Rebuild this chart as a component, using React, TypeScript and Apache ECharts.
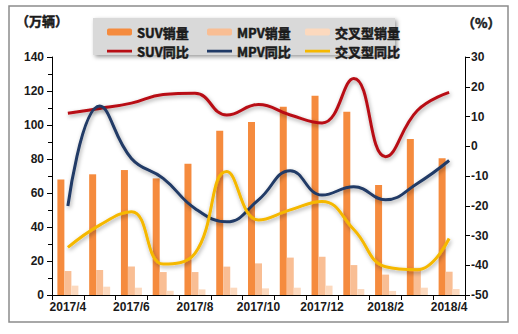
import React, { useEffect, useRef } from "react";
import * as echarts from "echarts";

const categories = ["2017/4", "2017/5", "2017/6", "2017/7", "2017/8", "2017/9", "2017/10", "2017/11", "2017/12", "2018/1", "2018/2", "2018/3", "2018/4"];
const suvSales = [68, 71, 73.5, 68.6, 77.2, 96.6, 101.8, 110.8, 117.2, 107.8, 64.7, 91.8, 80.4];
const mpvSales = [14.1, 14.7, 16.7, 13.5, 13.5, 16.7, 18.6, 22, 22.5, 17.6, 12, 16, 13.7];
const crossSales = [5.5, 4.9, 4.3, 2.5, 3.3, 4.3, 3.9, 4.3, 5.5, 3.5, 2.4, 4.3, 3.5];
const suvYoy = [11.1, 12.7, 14.5, 17.4, 17.8, 10.5, 14, 10.5, 7.8, 22.8, -3.5, 12, 18.1];
const mpvYoy = [-20.1, 13.5, -4.1, -10.8, -20.9, -25.4, -18, -8.2, -16.4, -13.6, -18, -12.5, -4.8];
const crossYoy = [-34, -26.5, -22, -39.6, -36, -8.5, -24.8, -21.4, -18.6, -28, -40.5, -41.5, -31];

const FONT = "'Noto Sans CJK SC', 'Liberation Sans', Arial, sans-serif";
const AXFONT = "'Liberation Sans', Arial, sans-serif";
const LINE_ICON = "path://M0,0h0.01v0.01h-0.01z M0,2.3h25v2.6h-25z M24.99,6.99h0.01v0.01h-0.01z";

const C_SUV = "#F58B3E";
const C_MPV = "#F9BE94";
const C_CROSS = "#FCD9BE";
const L_SUV = "#B80E14";
const L_MPV = "#203A66";
const L_CROSS = "#F5B800";

export default function App() {
  const ref = useRef<HTMLDivElement>(null);
  useEffect(() => {
    if (!ref.current) return;
    const chart = echarts.init(ref.current, null, { renderer: "svg" });
    const legendCommon = {
      orient: "vertical" as const,
      itemWidth: 25,
      itemHeight: 7,
      itemGap: 5,
      top: 20,
      symbolKeepAspect: false,
      textStyle: {
        fontFamily: FONT,
        fontWeight: "bold" as const,
        fontSize: 13,
        color: "#1a1a1a",
        lineHeight: 14,
        textBorderColor: "#1a1a1a",
        textBorderWidth: 0.5,
      },
    };
    const lineItem = (name: string, color: string) => ({ name, icon: LINE_ICON, itemStyle: { color } });
    const shadow = { shadowColor: "rgba(0,0,0,0.35)", shadowBlur: 4, shadowOffsetX: 1, shadowOffsetY: 2 };
    chart.setOption({
      animation: false,
      backgroundColor: "#ffffff",
      graphic: [
        { type: "rect", shape: { x: 9, y: 6, width: 499, height: 316 }, style: { fill: "none", stroke: "#8c8c8c", lineWidth: 1.5 }, z: 0 },
        {
          type: "rect",
          shape: { x: 93, y: 18, width: 302, height: 37 },
          style: { fill: "#d9d9d9", shadowColor: "rgba(0,0,0,0.4)", shadowBlur: 4, shadowOffsetX: 2, shadowOffsetY: 2 },
          z: 0,
        },
        { type: "text", x: 16, y: 14, style: { text: "（万辆）", font: `bold 13px ${FONT}`, fill: "#1a1a1a", stroke: "#1a1a1a", lineWidth: 0.5 } },
        { type: "text", x: 462, y: 16, style: { text: "（%）", font: `bold 13px ${FONT}`, fill: "#1a1a1a", stroke: "#1a1a1a", lineWidth: 0.5 } },
      ],
      legend: [
        { ...legendCommon, left: 102, data: ["SUV销量", lineItem("SUV同比", L_SUV)] },
        { ...legendCommon, left: 202, data: ["MPV销量", lineItem("MPV同比", L_MPV)] },
        { ...legendCommon, left: 300, data: ["交叉型销量", lineItem("交叉型同比", L_CROSS)] },
      ],
      grid: { left: 52, right: 53, top: 57, bottom: 39 },
      xAxis: {
        type: "category",
        data: categories,
        boundaryGap: true,
        axisLine: { lineStyle: { color: "#000", width: 1 } },
        axisTick: { show: true, interval: 0, length: 5, lineStyle: { color: "#000" } },
        axisLabel: { interval: 1, color: "#1a1a1a", fontFamily: AXFONT, fontWeight: "bold", fontSize: 12, margin: 6 },
      },
      yAxis: [
        {
          type: "value",
          min: 0,
          max: 140,
          interval: 20,
          splitLine: { show: false },
          axisLine: { show: true, lineStyle: { color: "#000" } },
          axisTick: { show: true, length: 5, lineStyle: { color: "#000" } },
          minorTick: { show: true, splitNumber: 2, length: 4, lineStyle: { color: "#000" } },
          axisLabel: { color: "#1a1a1a", fontFamily: AXFONT, fontWeight: "bold", fontSize: 12, margin: 8 },
        },
        {
          type: "value",
          min: -50,
          max: 30,
          interval: 10,
          splitLine: { show: false },
          axisLine: { show: true, lineStyle: { color: "#000" } },
          axisTick: { show: true, length: 5, lineStyle: { color: "#000" } },
          axisLabel: { color: "#1a1a1a", fontFamily: AXFONT, fontWeight: "bold", fontSize: 12, margin: 6 },
        },
      ],
      series: [
        { name: "SUV销量", type: "bar", data: suvSales, barWidth: 7, barGap: "0%", itemStyle: { color: C_SUV } },
        { name: "MPV销量", type: "bar", data: mpvSales, barWidth: 7, barGap: "0%", itemStyle: { color: C_MPV } },
        { name: "交叉型销量", type: "bar", data: crossSales, barWidth: 7, barGap: "0%", itemStyle: { color: C_CROSS } },
        { name: "SUV同比", type: "line", yAxisIndex: 1, data: suvYoy, smooth: 0.45, symbol: "none", lineStyle: { color: L_SUV, width: 3, ...shadow }, itemStyle: { color: L_SUV } },
        { name: "MPV同比", type: "line", yAxisIndex: 1, data: mpvYoy, smooth: 0.45, symbol: "none", lineStyle: { color: L_MPV, width: 3, ...shadow }, itemStyle: { color: L_MPV } },
        { name: "交叉型同比", type: "line", yAxisIndex: 1, data: crossYoy, smooth: 0.45, symbol: "none", lineStyle: { color: L_CROSS, width: 3, ...shadow }, itemStyle: { color: L_CROSS } },
      ],
    });
    return () => chart.dispose();
  }, []);
  return <div ref={ref} style={{ position: "fixed", left: 0, top: 0, width: 518, height: 334 }} />;
}
